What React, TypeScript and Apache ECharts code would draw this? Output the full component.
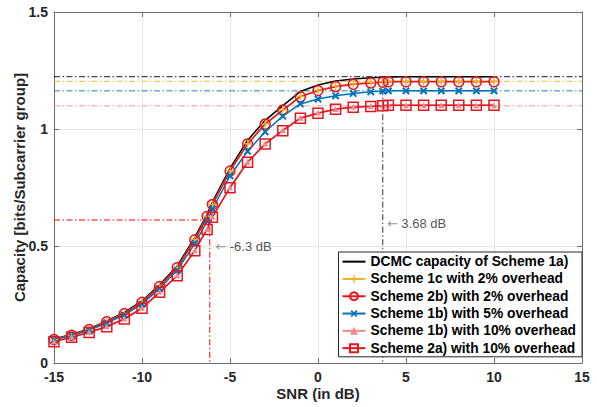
import React, { useEffect, useRef } from "react";
import * as echarts from "echarts";

const snr = [-15, -14, -13, -12, -11, -10, -9, -8, -7, -6.3, -6, -5, -4, -3, -2, -1, 0, 1, 2, 3, 3.68, 4, 5, 6, 7, 8, 9, 10];

const dcmc = [0.103, 0.122, 0.147, 0.18, 0.216, 0.265, 0.334, 0.415, 0.537, 0.635, 0.688, 0.832, 0.952, 1.037, 1.1, 1.16, 1.188, 1.205, 1.214, 1.219, 1.221, 1.222, 1.2235, 1.2235, 1.2235, 1.2235, 1.2235, 1.2235];
const scheme1c2 = [0.101, 0.119, 0.144, 0.177, 0.212, 0.26, 0.328, 0.408, 0.527, 0.627, 0.678, 0.821, 0.937, 1.022, 1.082, 1.139, 1.166, 1.183, 1.193, 1.199, 1.202, 1.204, 1.204, 1.204, 1.204, 1.204, 1.204, 1.204];
const scheme2b2 = [0.1, 0.118, 0.143, 0.176, 0.211, 0.259, 0.327, 0.407, 0.526, 0.626, 0.677, 0.82, 0.936, 1.021, 1.081, 1.138, 1.164, 1.181, 1.191, 1.197, 1.2, 1.202, 1.202, 1.202, 1.202, 1.202, 1.202, 1.202];
const scheme1b5 = [0.099, 0.117, 0.14, 0.171, 0.206, 0.252, 0.318, 0.396, 0.51, 0.605, 0.658, 0.8, 0.905, 0.988, 1.055, 1.107, 1.128, 1.142, 1.152, 1.159, 1.162, 1.163, 1.163, 1.163, 1.163, 1.163, 1.163, 1.163];
const scheme1b10 = [0.093, 0.112, 0.132, 0.157, 0.19, 0.236, 0.304, 0.375, 0.482, 0.573, 0.625, 0.751, 0.86, 0.938, 0.995, 1.048, 1.069, 1.086, 1.095, 1.098, 1.1, 1.101, 1.101, 1.101, 1.101, 1.101, 1.101, 1.101];
const scheme2a10 = [0.091, 0.11, 0.13, 0.155, 0.188, 0.234, 0.302, 0.373, 0.48, 0.571, 0.623, 0.749, 0.858, 0.936, 0.993, 1.046, 1.067, 1.084, 1.093, 1.096, 1.099, 1.101, 1.101, 1.101, 1.101, 1.101, 1.101, 1.101];

const seriesNames = [
  "DCMC capacity of Scheme 1a)",
  "Scheme 1c with 2% overhead",
  "Scheme 2b) with 2% overhead",
  "Scheme 1b) with 5% overhead",
  "Scheme 1b) with 10% overhead",
  "Scheme 2a) with 10% overhead",
];

const refLevels = [1.2235, 1.204, 1.163, 1.099];
const halfCapPoint = [-6.15, 0.611];
const saturationPoint = [3.68, 1.2235];
const annotationTexts = ["-6.3 dB", "3.68 dB"];
const annotationAnchors = [[-5.85, 0.497], [3.9, 0.598]];

const xTicks = { min: -15, max: 15, interval: 5 };
const yTicks = { min: 0, max: 1.5, interval: 0.5 };

const BLACK = "#000000";
const YELLOW = "#EDB120";
const RED = "#E3161F";
const BLUE = "#0072BD";
const PINK = "#EE8A8A";
const FONT = "'Liberation Sans', Arial, Helvetica, sans-serif";

const PLUS = "path://M4.2,0H5.8V4.2H10V5.8H5.8V10H4.2V5.8H0V4.2H4.2Z";
const CROSS = "path://M3.9,0H6.1V3.9H10V6.1H6.1V10H3.9V6.1H0V3.9H3.9Z";

const pairs = (ys: number[]) => snr.map((x, i) => [x, ys[i]]);

export default function App() {
  const ref = useRef<HTMLDivElement>(null);
  useEffect(() => {
    if (!ref.current) return;
    const chart = echarts.init(ref.current, undefined, { renderer: "svg" });
    const dashDot = [6, 2.5, 1.5, 2.5];
    const refColors = [BLACK, YELLOW, BLUE, PINK];
    const refSeries = refLevels.map((lv, i) => ({
      type: "line",
      name: "ref" + i,
      data: [[xTicks.min, lv], [xTicks.max, lv]],
      symbol: "none",
      silent: true,
      z: 1,
      lineStyle: { color: refColors[i], width: 1, type: dashDot, opacity: i === 3 ? 0.85 : 0.9 },
    }));
    const guideSeries = [
      {
        type: "line",
        name: "half",
        data: [[xTicks.min, halfCapPoint[1]], [halfCapPoint[0], halfCapPoint[1]], [halfCapPoint[0], yTicks.min]],
        symbol: "none",
        silent: true,
        z: 1,
        lineStyle: { color: "#FF0000", width: 1, type: dashDot },
      },
      {
        type: "line",
        name: "sat",
        data: [[saturationPoint[0], saturationPoint[1]], [saturationPoint[0], yTicks.min]],
        symbol: "none",
        silent: true,
        z: 1,
        lineStyle: { color: "#333333", width: 1, type: dashDot },
      },
    ];
    const annSeries = {
      type: "scatter",
      name: "ann",
      silent: true,
      z: 3,
      symbolSize: 1,
      itemStyle: { color: "transparent" },
      data: annotationAnchors.map((p) => ({ value: p })),
      label: {
        show: true,
        position: "right",
        distance: 0,
        formatter: (p: any) => "{a|←} {b|" + annotationTexts[p.dataIndex] + "}",
        rich: {
          a: { color: "#7a7a7a", fontSize: 13, fontFamily: "DejaVu Sans" },
          b: { color: "#262626", fontSize: 13, fontFamily: FONT },
        },
      },
    };
    const mk = (name: string, ys: number[], color: string, symbol: string, size: number, extra: any = {}) => ({
      type: "line",
      name,
      data: pairs(ys),
      symbol,
      symbolSize: size,
      z: 5,
      lineStyle: { color, width: 1.5 },
      ...extra,
    });
    const mainSeries = [
      mk(seriesNames[0], dcmc, BLACK, "circle", 1, {
        showSymbol: false,
        itemStyle: { color: "rgba(0,0,0,0)", borderWidth: 0 },
      }),
      mk(seriesNames[1], scheme1c2, YELLOW, PLUS, 8, { itemStyle: { color: YELLOW } }),
      mk(seriesNames[2], scheme2b2, RED, "circle", 10, {
        itemStyle: { color: "rgba(0,0,0,0)", borderColor: RED, borderWidth: 1.5 },
      }),
      mk(seriesNames[3], scheme1b5, BLUE, CROSS, 9, { symbolRotate: 45, itemStyle: { color: BLUE } }),
      mk(seriesNames[4], scheme1b10, PINK, "triangle", 6, { itemStyle: { color: PINK } }),
      mk(seriesNames[5], scheme2a10, RED, "rect", 10, {
        itemStyle: { color: "rgba(0,0,0,0)", borderColor: RED, borderWidth: 1.5 },
      }),
    ];
    const axisColor = "#6e6e6e";
    const labelStyle = { color: "#262626", fontSize: 14, fontWeight: "bold" as const, fontFamily: FONT };
    chart.setOption({
      animation: false,
      backgroundColor: "#ffffff",
      grid: { left: 54, right: 15, top: 12, bottom: 44, show: false, containLabel: false, outerBoundsMode: "none" },
      xAxis: [
        {
          type: "value",
          min: xTicks.min,
          max: xTicks.max,
          interval: xTicks.interval,
          name: "SNR (in dB)",
          nameLocation: "middle",
          nameGap: 23,
          nameMoveOverlap: false,
          nameTextStyle: { color: "#262626", fontSize: 15, fontWeight: "bold", fontFamily: FONT },
          axisLine: { show: true, onZero: false, lineStyle: { color: axisColor, width: 1 } },
          axisTick: { show: true, inside: true, length: 5, lineStyle: { color: axisColor } },
          axisLabel: { ...labelStyle, margin: 7 },
          splitLine: { show: true, lineStyle: { color: "#e6e6e6", width: 1 } },
        },
        {
          type: "value",
          position: "top",
          min: xTicks.min,
          max: xTicks.max,
          interval: xTicks.interval,
          axisLine: { show: true, onZero: false, lineStyle: { color: axisColor, width: 1 } },
          axisTick: { show: true, inside: true, length: 5, lineStyle: { color: axisColor } },
          axisLabel: { show: false },
          splitLine: { show: false },
        },
      ],
      yAxis: [
        {
          type: "value",
          min: yTicks.min,
          max: yTicks.max,
          interval: yTicks.interval,
          name: "Capacity [bits/Subcarrier group]",
          nameLocation: "middle",
          nameGap: 27,
          nameMoveOverlap: false,
          nameTextStyle: { color: "#262626", fontSize: 15, fontWeight: "bold", fontFamily: FONT },
          axisLine: { show: true, onZero: false, lineStyle: { color: axisColor, width: 1 } },
          axisTick: { show: true, inside: true, length: 5, lineStyle: { color: axisColor } },
          axisLabel: { ...labelStyle, margin: 6 },
          splitLine: { show: true, lineStyle: { color: "#e6e6e6", width: 1 } },
        },
        {
          type: "value",
          position: "right",
          min: yTicks.min,
          max: yTicks.max,
          interval: yTicks.interval,
          axisLine: { show: true, onZero: false, lineStyle: { color: axisColor, width: 1 } },
          axisTick: { show: true, inside: true, length: 5, lineStyle: { color: axisColor } },
          axisLabel: { show: false },
          splitLine: { show: false },
        },
      ],
      legend: {
        data: seriesNames,
        orient: "vertical",
        right: 15,
        top: 252,
        itemWidth: 23,
        itemHeight: 10,
        itemGap: 2,
        padding: [2, 6, 1, 3],
        backgroundColor: "#ffffff",
        borderColor: "#262626",
        borderWidth: 1,
        borderRadius: 0,
        textStyle: { color: "#000000", fontSize: 13.8, fontWeight: "bold", fontFamily: FONT, lineHeight: 15.3 },
      },
      series: [...refSeries, ...guideSeries, ...mainSeries, annSeries],
    });
    return () => chart.dispose();
  }, []);
  return <div ref={ref} style={{ width: 597, height: 407, position: "absolute", left: 0, top: 0 }} />;
}
